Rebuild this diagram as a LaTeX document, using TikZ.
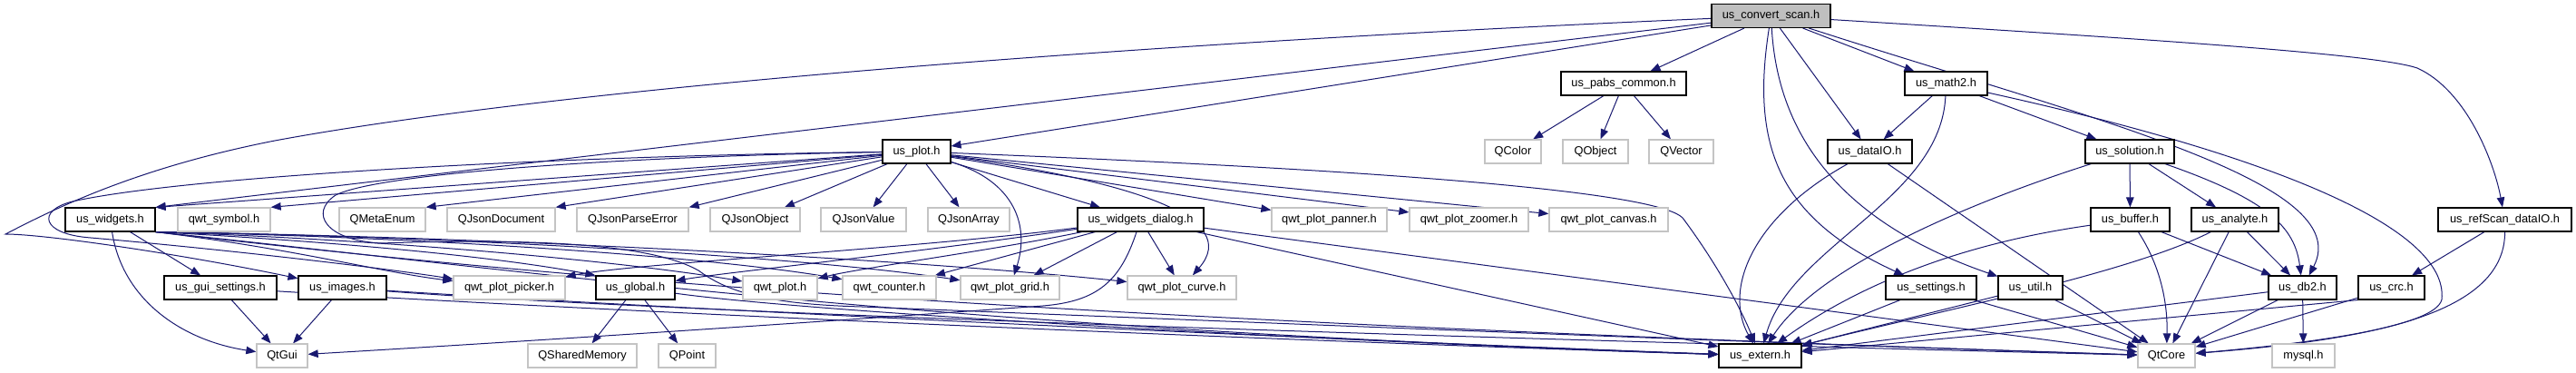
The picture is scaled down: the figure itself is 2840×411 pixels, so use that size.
\documentclass[tikz,border=0pt]{standalone}
\usepackage{fontspec}
\setmainfont{Liberation Sans}
\usetikzlibrary{arrows.meta,calc}
\definecolor{edgeblue}{HTML}{191970}
\definecolor{extgray}{HTML}{C4C4C4}
\definecolor{rootgray}{HTML}{BFBFBF}
\pgfdeclarelayer{bg}
\pgfsetlayers{bg,main}
\tikzset{
  box/.style={draw=black, line width=1.1pt, fill=white, minimum height=26pt, inner sep=0pt,
    font=\fontsize{12.8}{14}\selectfont, text height=9.5pt, text depth=3pt},
  ext/.style={box, draw=extgray, line width=1.3pt},
  rootbox/.style={box, fill=rootgray},
  e/.style={draw=edgeblue, line width=1pt, -{Triangle[length=11pt,width=8.5pt]}}
}
\begin{document}
\begin{tikzpicture}[x=1pt,y=-1pt]
\useasboundingbox (0,0) rectangle (2840,411);
% row 0
\node[rootbox, minimum width=131pt] (root) at (1952.5,17.5) {us\_convert\_scan.h};
% row 1
\node[box, minimum width=138pt] (pabs) at (1790,92) {us\_pabs\_common.h};
\node[box, minimum width=91pt] (math2) at (2145.5,92) {us\_math2.h};
% row 2
\node[box, minimum width=75pt] (plot) at (1010.5,167) {us\_plot.h};
\node[ext, minimum width=62pt] (QColor) at (1668,167) {QColor};
\node[ext, minimum width=72pt] (QObject) at (1759,167) {QObject};
\node[ext, minimum width=71pt] (QVector) at (1853.5,167) {QVector};
\node[box, minimum width=93pt] (dataIO) at (2061.5,167) {us\_dataIO.h};
\node[box, minimum width=98pt] (solution) at (2348,167) {us\_solution.h};
% row 3
\node[box, minimum width=99pt] (widgets) at (121.5,242) {us\_widgets.h};
\node[ext, minimum width=102pt] (qwtsymbol) at (247,242) {qwt\_symbol.h};
\node[ext, minimum width=95pt] (QMetaEnum) at (421.5,242) {QMetaEnum};
\node[ext, minimum width=119pt] (QJsonDocument) at (552.5,242) {QJsonDocument};
\node[ext, minimum width=123pt] (QJsonParseError) at (697.5,242) {QJsonParseError};
\node[ext, minimum width=99pt] (QJsonObject) at (832.5,242) {QJsonObject};
\node[ext, minimum width=94pt] (QJsonValue) at (952,242) {QJsonValue};
\node[ext, minimum width=90pt] (QJsonArray) at (1068,242) {QJsonArray};
\node[box, minimum width=139pt] (dialog) at (1257.5,242) {us\_widgets\_dialog.h};
\node[ext, minimum width=127pt] (panner) at (1465.5,242) {qwt\_plot\_panner.h};
\node[ext, minimum width=131pt] (zoomer) at (1619.5,242) {qwt\_plot\_zoomer.h};
\node[ext, minimum width=131pt] (canvas) at (1773.5,242) {qwt\_plot\_canvas.h};
\node[box, minimum width=87pt] (buffer) at (2348.5,242) {us\_buffer.h};
\node[box, minimum width=96pt] (analyte) at (2464,242) {us\_analyte.h};
\node[box, minimum width=147pt] (refscan) at (2761.5,242) {us\_refScan\_dataIO.h};
% row 4
\node[box, minimum width=124pt] (guisettings) at (243,317) {us\_gui\_settings.h};
\node[box, minimum width=97pt] (images) at (377.5,317) {us\_images.h};
\node[ext, minimum width=123pt] (picker) at (561.5,317) {qwt\_plot\_picker.h};
\node[box, minimum width=87pt] (global) at (700.5,317) {us\_global.h};
\node[ext, minimum width=82pt] (qwtplot) at (860,317) {qwt\_plot.h};
\node[ext, minimum width=103pt] (counter) at (980.5,317) {qwt\_counter.h};
\node[ext, minimum width=109pt] (grid) at (1113.5,317) {qwt\_plot\_grid.h};
\node[ext, minimum width=120pt] (curve) at (1303,317) {qwt\_plot\_curve.h};
\node[box, minimum width=100pt] (settings) at (2129,317) {us\_settings.h};
\node[box, minimum width=71pt] (util) at (2238.5,317) {us\_util.h};
\node[box, minimum width=75pt] (db2) at (2538.5,317) {us\_db2.h};
\node[box, minimum width=73pt] (crc) at (2636.5,317) {us\_crc.h};
% row 5
\node[ext, minimum width=56pt] (QtGui) at (311,392) {QtGui};
\node[ext, minimum width=120pt] (QSharedMemory) at (642,392) {QSharedMemory};
\node[ext, minimum width=63pt] (QPoint) at (757.5,392) {QPoint};
\node[box, minimum width=91pt] (extern) at (1940.5,392) {us\_extern.h};
\node[ext, minimum width=63pt] (QtCore) at (2388.5,392) {QtCore};
\node[ext, minimum width=69pt] (mysql) at (2539.5,392) {mysql.h};

\begin{pgfonlayer}{bg}
\fill[white] (0,0) rectangle (2840,411);
% root
\draw[e] (root) -- (pabs);
\draw[e] (root) -- (math2);
\draw[e] (root) -- (dataIO);
\draw[e] (root) .. controls (1930,160) and (1960,240) .. (settings);
\draw[e] (root) .. controls (1960,150) and (2030,245) .. (util);
\draw[e] (root) .. controls (2300,130) and (2600,200) .. (db2);
\draw[e] (root) .. controls (2400,45) and (2620,60) .. (2665,75) .. controls (2720,100) and (2750,180) .. (refscan);
\draw[e] (root) -- (plot);
\draw[e] (root) -- (widgets.north east);
\draw[e] (root) .. controls (1200,50) and (600,100) .. (303,155) .. controls (150,185) and (60,230) .. (6,258) .. controls (50,258) and (200,280) .. (images);
% pabs
\draw[e] (pabs) -- (QColor);
\draw[e] (pabs) -- (QObject);
\draw[e] (pabs) -- (QVector);
% math2
\draw[e] (math2) -- (dataIO);
\draw[e] (math2) -- (solution);
\draw[e] (math2) .. controls (2140,220) and (1975,270) .. (extern);
\draw[e] (math2) .. controls (2500,170) and (2700,250) .. (2692,330) .. controls (2685,360) and (2550,378) .. (QtCore);
% plot
\draw[e] (plot) -- (widgets.north east);
\draw[e] (plot) -- (qwtsymbol.north east);
\draw[e] (plot) -- (QMetaEnum.north east);
\draw[e] (plot) -- (QJsonDocument.north east);
\draw[e] (plot) -- (QJsonParseError.north east);
\draw[e] (plot) -- (QJsonObject);
\draw[e] (plot) -- (QJsonValue);
\draw[e] (plot) -- (QJsonArray);
\draw[e] (plot) -- (dialog);
\draw[e] (plot) .. controls (1120,200) and (1135,250) .. (grid);
\draw[e] (plot) .. controls (1250,200) and (1370,240) .. (curve);
\draw[e] (plot) -- (panner);
\draw[e] (plot) -- (zoomer);
\draw[e] (plot) -- (canvas);
\draw[e] (plot) .. controls (1600,190) and (1830,215) .. (1855,240) .. controls (1885,280) and (1915,330) .. (extern);
\draw[e] (plot) .. controls (600,172) and (200,195) .. (80,222) .. controls (40,232) and (45,258) .. (100,262) .. controls (250,275) and (420,295) .. (picker);
\draw[e] (plot) .. controls (700,172) and (420,190) .. (370,215) .. controls (340,235) and (360,265) .. (420,268) .. controls (600,262) and (720,270) .. (770,298) .. controls (800,320) and (840,335) .. (950,338) .. controls (1500,360) and (2000,380) .. (QtCore);
% dialog
\draw[e] (dialog) .. controls (1000,275) and (700,290) .. (picker);
\draw[e] (dialog) .. controls (1000,280) and (800,300) .. (global);
\draw[e] (dialog) .. controls (1100,275) and (950,295) .. (qwtplot);
\draw[e] (dialog) -- (counter);
\draw[e] (dialog) -- (grid);
\draw[e] (dialog) -- (curve);
\draw[e] (dialog) .. controls (1235,310) and (1210,332) .. (1150,337) .. controls (900,355) and (600,375) .. (QtGui);
\draw[e] (dialog) -- (extern);
\draw[e] (dialog) -- (QtCore);
% widgets
\draw[e] (widgets) -- (guisettings);
\draw[e] (widgets) .. controls (135,330) and (200,375) .. (QtGui);
\draw[e] (widgets.south east) .. controls (330,275) and (420,300) .. (picker);
\draw[e] (widgets.south east) .. controls (400,268) and (560,285) .. (global.north west);
\draw[e] (widgets.south east) .. controls (450,265) and (700,290) .. (qwtplot);
\draw[e] (widgets.south east) .. controls (500,262) and (800,285) .. (counter);
\draw[e] (widgets.south east) .. controls (550,262) and (900,285) .. (grid);
\draw[e] (widgets.south east) .. controls (600,262) and (1050,290) .. (curve);
\draw[e] (widgets.south east) .. controls (600,300) and (1000,360) .. (extern);
\draw[e] (widgets.south east) .. controls (600,305) and (1100,350) .. (QtCore);
% gui settings
\draw[e] (guisettings) -- (QtGui);
\draw[e] (guisettings) .. controls (700,345) and (1400,375) .. (extern);
% images
\draw[e] (images) -- (QtGui);
\draw[e] (images) .. controls (700,338) and (1400,372) .. (extern);
\draw[e] (images) .. controls (700,342) and (1500,370) .. (QtCore);
% global
\draw[e] (global) -- (QSharedMemory);
\draw[e] (global) -- (QPoint);
\draw[e] (global) .. controls (900,345) and (1500,378) .. (extern);
% dataIO
\draw[e] (dataIO) .. controls (1930,240) and (1900,320) .. (extern);
\draw[e] (dataIO) -- (QtCore);
% solution
\draw[e] (solution) -- (buffer);
\draw[e] (solution) -- (analyte);
\draw[e] (solution) .. controls (2500,220) and (2530,250) .. (db2);
\draw[e] (solution) .. controls (2150,230) and (2000,300) .. (extern);
% buffer
\draw[e] (buffer) -- (db2);
\draw[e] (buffer) .. controls (2380,290) and (2390,330) .. (QtCore);
\draw[e] (buffer) .. controls (2150,270) and (2040,320) .. (extern);
% analyte
\draw[e] (analyte) -- (db2);
\draw[e] (analyte) -- (QtCore);
\draw[e] (analyte) .. controls (2350,300) and (2150,340) .. (extern);
% refscan
\draw[e] (refscan) -- (crc);
\draw[e] (refscan) .. controls (2762,350) and (2600,375) .. (QtCore);
% settings, util, db2, crc
\draw[e] (settings) -- (extern);
\draw[e] (settings) -- (QtCore);
\draw[e] (util) -- (extern);
\draw[e] (util) -- (QtCore);
\draw[e] (db2) -- (extern);
\draw[e] (db2) -- (QtCore);
\draw[e] (db2) -- (mysql);
\draw[e] (crc.south west) -- (extern);
\draw[e] (crc) -- (QtCore);
\end{pgfonlayer}
\end{tikzpicture}
\end{document}
